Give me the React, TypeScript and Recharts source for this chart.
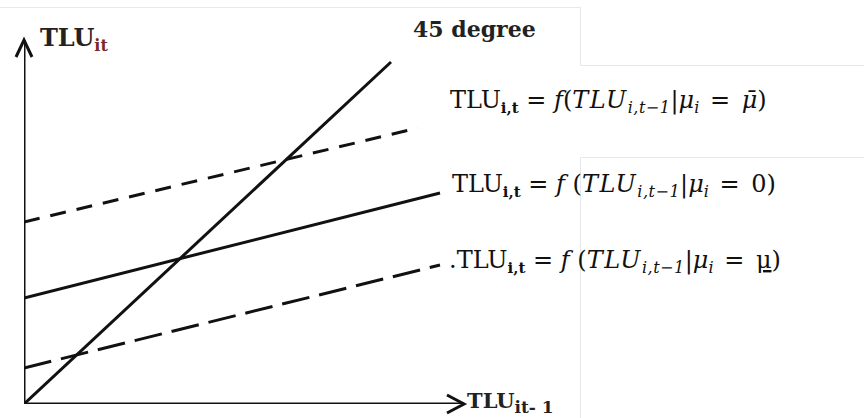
import React from "react";
import { LineChart, Line, XAxis, YAxis, ReferenceDot } from "recharts";

// Line end points (arbitrary units: x 0..440, y 0..364)
const line45 = [
  { x: 0, y: 0 },
  { x: 367, y: 342 },
];
const lineMuBar = [
  { x: 0, y: 182 },
  { x: 394, y: 276 },
];
const lineZero = [
  { x: 0, y: 106 },
  { x: 416, y: 211 },
];
const lineMuLow = [
  { x: 0, y: 36 },
  { x: 416, y: 139 },
];
const xAxisLine = [
  { x: 0, y: 0 },
  { x: 440, y: 0 },
];
const yAxisLine = [
  { x: 0, y: 0 },
  { x: 0, y: 364 },
];
const xDomain = [0, 440];
const yDomain = [0, 364];

const W = 864;
const H = 418;
const SERIF = "'DejaVu Serif', 'Liberation Serif', serif";

const XArrow = (p: any) => (
  <path
    d={`M ${p.cx - 17} ${p.cy - 9} L ${p.cx} ${p.cy} L ${p.cx - 17} ${p.cy + 9}`}
    stroke="#111"
    strokeWidth={3}
    fill="none"
  />
);
const YArrow = (p: any) => (
  <path
    d={`M ${p.cx - 8} ${p.cy + 17} L ${p.cx} ${p.cy} L ${p.cx + 8} ${p.cy + 17}`}
    stroke="#111"
    strokeWidth={3}
    fill="none"
  />
);

const Eq = ({ x, y, dot, last, under, gap }: any) => (
  <text x={x} y={y} fontSize={24} fontFamily={SERIF} fill="#111" style={{ whiteSpace: "pre" }}>
    {dot ? <tspan>.</tspan> : null}
    <tspan>TLU</tspan>
    <tspan dy={5} fontSize={15} fontWeight="bold">i,t</tspan>
    <tspan dy={-5}>{" = "}</tspan>
    <tspan fontStyle="italic">f</tspan>
    <tspan>{gap ? " (" : "("}</tspan>
    <tspan fontStyle="italic" letterSpacing={1.5}>TLU</tspan>
    <tspan dy={5} fontSize={16} fontStyle="italic" letterSpacing={0.5}>i,t−1</tspan>
    <tspan dy={-5}>|</tspan>
    <tspan fontStyle="italic">μ</tspan>
    <tspan dy={5} fontSize={16} fontStyle="italic">i</tspan>
    <tspan dy={-5} dx={3}>{" = "}</tspan>
    {under ? (
      <tspan dx={4} textDecoration="underline">μ</tspan>
    ) : (
      <tspan dx={4} fontStyle={last === "0" ? "normal" : "italic"}>{last}</tspan>
    )}
    <tspan>)</tspan>
  </text>
);

export default function App() {
  return (
    <div style={{ position: "absolute", left: 0, top: 0, width: W, height: H, background: "#fff" }}>
      <LineChart width={W} height={H} margin={{ top: 40, right: 400, bottom: 14, left: 24 }}>
        <XAxis type="number" dataKey="x" domain={xDomain} hide allowDataOverflow />
        <YAxis type="number" dataKey="y" domain={yDomain} hide allowDataOverflow />
        <Line data={xAxisLine} dataKey="y" stroke="#111" strokeWidth={3} dot={false} isAnimationActive={false} />
        <Line data={yAxisLine} dataKey="y" stroke="#111" strokeWidth={3} dot={false} isAnimationActive={false} />
        <Line data={line45} dataKey="y" stroke="#111" strokeWidth={3} dot={false} isAnimationActive={false} />
        <Line data={lineMuBar} dataKey="y" stroke="#111" strokeWidth={3} strokeDasharray="16 11" dot={false} isAnimationActive={false} />
        <Line data={lineZero} dataKey="y" stroke="#111" strokeWidth={3} dot={false} isAnimationActive={false} />
        <Line data={lineMuLow} dataKey="y" stroke="#111" strokeWidth={3} strokeDasharray="28 10" dot={false} isAnimationActive={false} />
        <ReferenceDot x={xDomain[1]} y={0} r={0} shape={XArrow} ifOverflow="visible" />
        <ReferenceDot x={0} y={yDomain[1]} r={0} shape={YArrow} ifOverflow="visible" />
      </LineChart>
      <svg width={W} height={H} style={{ position: "absolute", left: 0, top: 0, pointerEvents: "none" }}>
        <g stroke="#e8e8e8" strokeWidth={1} fill="none">
          <path d="M 0 7.5 L 580.5 7.5 L 580.5 65.5 L 864 65.5" />
          <path d="M 864 157.5 L 580.5 157.5 L 580.5 418" />
        </g>
        <text x={40} y={46} fontSize={24} fontWeight="bold" fontFamily={SERIF} fill="#222">
          TLU
          <tspan dy={5} fontSize={16} fill="#7a2a2a">it</tspan>
        </text>
        <text x={413} y={37} fontSize={22} fontWeight="bold" fontFamily={SERIF} fill="#222">
          45 degree
        </text>
        <text x={467} y={408} fontSize={21} fontWeight="bold" fontFamily={SERIF} fill="#222" style={{ whiteSpace: "pre" }}>
          TLU
          <tspan dy={5} fontSize={17}>it- 1</tspan>
        </text>
        <Eq x={450} y={108} last={"μ\u0304"} />
        <Eq x={452} y={192} last="0" gap />
        <Eq x={449} y={268} dot under gap />
      </svg>
    </div>
  );
}
